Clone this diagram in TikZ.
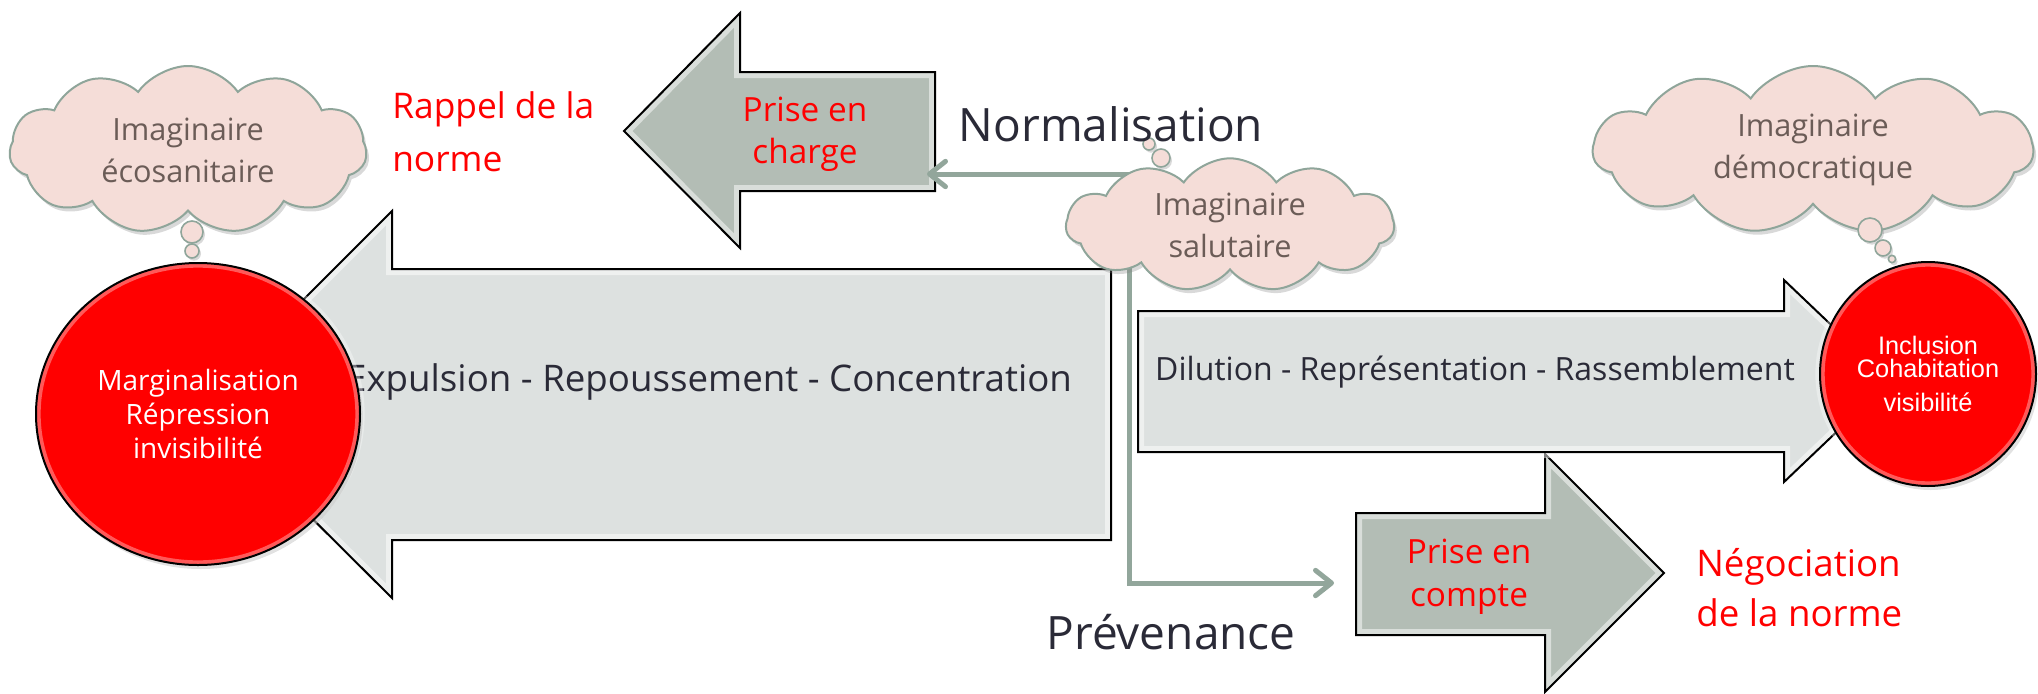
\documentclass[tikz,border=0pt]{standalone}
\usepackage{fontspec}
\setmainfont{Open Sans}
\newfontfamily\arialfont{Liberation Sans}
\usetikzlibrary{shapes.geometric}
\usetikzlibrary{shapes.symbols}
\usetikzlibrary{shadows}
\usetikzlibrary{arrows.meta}
\definecolor{arrowgrey}{HTML}{DDE1E0}
\definecolor{boxgreen}{HTML}{B3BDB5}
\definecolor{cloudpink}{HTML}{F5DDD8}
\definecolor{cloudline}{HTML}{8FA59A}
\definecolor{cloudink}{HTML}{6B5C57}
\definecolor{darkink}{HTML}{2A2A37}
\definecolor{linkgreen}{HTML}{92A69B}

\begin{document}
\begin{tikzpicture}[x=0.75pt,y=0.75pt,yscale=-1,
  bigarrow/.style={fill=arrowgrey, line join=miter,
    postaction={draw=white, draw opacity=.5, line width=9pt},
    postaction={draw=black, line width=1.5pt}},
  boxarrow/.style={bigarrow, fill=boxgreen},
  ball/.style={ellipse, fill=red, inner sep=0pt, text=white, align=center,
    drop shadow={opacity=.35, shadow xshift=2pt, shadow yshift=-3pt},
    postaction={draw=white, draw opacity=.35, line width=7pt},
    postaction={draw=black, line width=1.5pt}},
  thought/.style={cloud, cloud puffs=11, cloud puff arc=110, cloud ignores aspect,
    fill=cloudpink, draw=cloudline, line width=1.5pt, text=cloudink, align=center, inner sep=0pt,
    drop shadow={opacity=.3, shadow xshift=2pt, shadow yshift=-3pt},
    font=\fontsize{23}{31.5}\selectfont},
  bubble/.style={circle, fill=cloudpink, draw=cloudline, line width=1.2pt, inner sep=0pt,
    drop shadow={opacity=.3, shadow xshift=1.5pt, shadow yshift=-2pt}},
  link/.style={draw=linkgreen, line width=3.75pt,
    {Straight Barb[length=12pt,width=19pt,round]}-{Straight Barb[length=12pt,width=19pt,round]}},
  redlabel/.style={text=red, align=left, inner sep=0pt},
  bigword/.style={text=darkink, inner sep=0pt, font=\fontsize{34.5}{40}\selectfont},
]
\useasboundingbox (0,0) rectangle (2038,693);

% Arrow: Expulsion (pointing left)
\draw[bigarrow] (198,405) -- (392,211) -- (392,269) -- (1111,269) -- (1111,540) -- (392,540) -- (392,598) -- cycle;
\node[text=darkink, inner sep=0pt, font=\fontsize{27.5}{32}\selectfont] (expulsion) at (709,382) {Expulsion - Repoussement - Concentration};

% Arrow: Prise en compte (pointing right)
\draw[boxarrow] (1356,513) -- (1545,513) -- (1545,454) -- (1664,573) -- (1545,692) -- (1545,635) -- (1356,635) -- cycle;
\node[text=red, align=center, inner sep=0pt, font=\fontsize{25}{32}\selectfont] (compte) at (1469,577) {Prise en\\compte};

% Arrow: Dilution (pointing right)
\draw[bigarrow] (1138,311) -- (1784,311) -- (1784,280) -- (1890,381) -- (1784,482) -- (1784,452) -- (1138,452) -- cycle;
\node[text=darkink, inner sep=0pt, font=\fontsize{24}{28}\selectfont] (dilution) at (1475,372) {Dilution - Représentation - Rassemblement};

% Arrow: Prise en charge (pointing left)
\draw[boxarrow] (624,131) -- (740,13) -- (740,72) -- (935,72) -- (935,191) -- (740,191) -- (740,248) -- cycle;
\node[text=red, align=center, inner sep=0pt, font=\fontsize{25}{31.5}\selectfont] (charge) at (805,134) {Prise en\\charge};

% Connector between the two small arrows
\coordinate (charge-e) at (927,174);
\coordinate (compte-w) at (1334,583);
\draw[link] (charge-e) -- ++(202,0) |- (compte-w);

% Red balls
\node[ball, minimum width=243pt, minimum height=226.5pt, font=\fontsize{21}{25.5}\selectfont] (margin) at (198,414) {Marginalisation\\Répression\\invisibilité};
\node[ball, minimum width=162pt, minimum height=168pt, font=\arialfont\fontsize{19}{17}\selectfont] (inclusion) at (1928,374) {Inclusion\\Cohabitation\\[9pt]visibilité};

% Thought clouds
\node[thought, minimum width=268pt, minimum height=126pt] (ecosan) at (188,150) {Imaginaire\\écosanitaire};
\node[bubble, minimum size=16.5pt] (ecosan-b1) at (192,232) {};
\node[bubble, minimum size=10.5pt] (ecosan-b2) at (192,251) {};

\node[bubble, minimum size=9pt] (salut-b1) at (1149,144) {};
\node[bubble, minimum size=13.5pt] (salut-b2) at (1161,158) {};
\node[thought, minimum width=246pt, minimum height=100pt] (salut) at (1230,225) {Imaginaire\\salutaire};

\node[thought, minimum width=330pt, minimum height=126pt] (democ) at (1813,150) {Imaginaire\\démocratique};
\node[bubble, minimum size=18pt] (democ-b1) at (1870,230) {};
\node[bubble, minimum size=12pt] (democ-b2) at (1883,248) {};
\node[bubble, minimum size=5.5pt] (democ-b3) at (1892,259) {};

% Labels
\node[redlabel, anchor=west, font=\fontsize{26.5}{40}\selectfont] (rappel) at (392,132) {Rappel de la\\norme};
\node[redlabel, anchor=west, font=\fontsize{27.5}{37.5}\selectfont] (nego) at (1696,588) {Négociation\\de la norme};
\node[bigword] (normal) at (1111,124) {Normalisation};
\node[bigword] (preven) at (1171,632) {Prévenance};

\end{tikzpicture}
\end{document}
